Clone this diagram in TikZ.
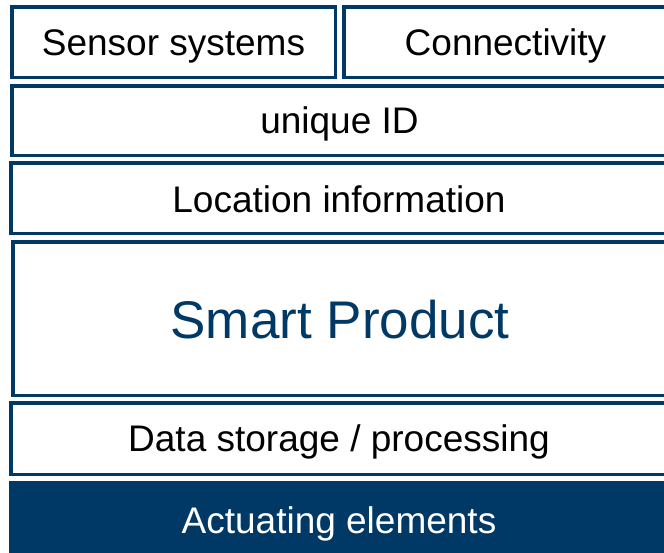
\documentclass[tikz,border=0pt]{standalone}
\usepackage{fontspec}
\setmainfont{Liberation Sans}
\definecolor{navy}{RGB}{0,57,102}
\begin{document}
\begin{tikzpicture}[x=1pt,y=-1pt,
  layer/.style={draw=navy, line width=3.5pt, fill=white, rectangle, inner sep=0pt,
    font=\fontsize{37}{44}\selectfont, text height=26.5pt, text depth=0pt},
  big/.style={font=\fontsize{53}{62}\selectfont, text height=40pt, text=navy},
  solid layer/.style={layer, fill=navy, text=white, text height=25pt}]
\useasboundingbox (0,0) rectangle (664,552);
\clip (0,0) rectangle (664,552);
% top row: two side-by-side blocks
\node[layer, minimum width=323.5pt, minimum height=70.5pt] (sensor) at (173.5,42) {Sensor systems};
\node[layer, minimum width=323.5pt, minimum height=70.5pt] (conn) at (505.5,42) {Connectivity};
% full-width layers
\node[layer, minimum width=655.5pt, minimum height=69.5pt] (uid) at (339.5,120.5) {unique ID};
\node[layer, text height=29.5pt, minimum width=656.5pt, minimum height=70.5pt] (loc) at (339,198) {Location information};
\node[layer, big, minimum width=654.5pt, minimum height=153.5pt] (smart) at (340,318.5) {Smart Product};
\node[layer, minimum width=656.5pt, minimum height=71.5pt] (data) at (339,438.5) {Data storage / processing};
% base layer, filled
\node[solid layer, minimum width=656.5pt, minimum height=75.5pt] (act) at (339,520.5) {Actuating elements};
\end{tikzpicture}
\end{document}
